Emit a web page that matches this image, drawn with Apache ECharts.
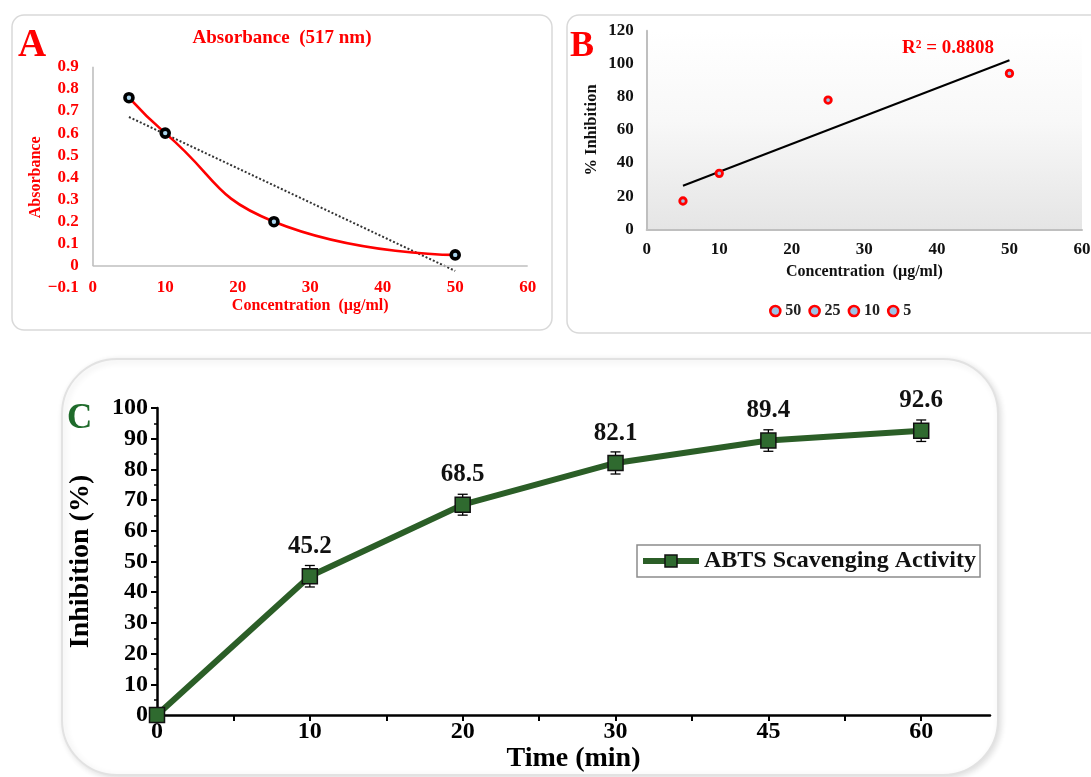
<!DOCTYPE html>
<html>
<head>
<meta charset="utf-8">
<script src="https://cdn.jsdelivr.net/npm/echarts@6/dist/echarts.min.js"></script>
<style>
  html, body { margin: 0; padding: 0; background: #ffffff; }
  #chart { width: 1091px; height: 777px; }
</style>
</head>
<body>
<div id="chart"></div>
<script>
// ---------- Panel A: Absorbance (517 nm) ----------
const concA = [5, 10, 25, 50];
const absorbanceA = [0.76, 0.60, 0.20, 0.05];
const yTicksA = { min: -0.1, max: 0.9, step: 0.1 };
const xTicksA = { min: 0, max: 60, step: 10 };

// ---------- Panel B: % Inhibition ----------
const concB = [50, 25, 10, 5];            // legend order
const inhibitionB = [94.2, 78.1, 33.8, 17.1];
const r2LabelB = 'R² = 0.8808';
const yTicksB = { min: 0, max: 120, step: 20 };
const xTicksB = { min: 0, max: 60, step: 10 };

// ---------- Panel C: ABTS Scavenging Activity ----------
const timeLabels = ['0', '10', '20', '30', '45', '60'];
const abtsValues = [0, 45.2, 68.5, 82.1, 89.4, 92.6];
const abtsErrors = [0, 3.5, 3.4, 3.6, 3.5, 3.5];
const yTicksC = { min: 0, max: 100, step: 10 };

const SERIF = "'Liberation Serif', 'Times New Roman', serif";
const RED = '#ff0000';
const GREEN_LINE = '#2b5e27';

function linFit(xs, ys) {
  const n = xs.length;
  const mx = xs.reduce((a, b) => a + b, 0) / n;
  const my = ys.reduce((a, b) => a + b, 0) / n;
  let sxy = 0, sxx = 0;
  for (let i = 0; i < n; i++) { sxy += (xs[i] - mx) * (ys[i] - my); sxx += (xs[i] - mx) ** 2; }
  const slope = sxy / sxx;
  return { slope, intercept: my - slope * mx };
}
function trendPoints(xs, ys) {
  const f = linFit(xs, ys);
  const lo = Math.min(...xs), hi = Math.max(...xs);
  return [[lo, f.intercept + f.slope * lo], [hi, f.intercept + f.slope * hi]];
}

const chart = echarts.init(document.getElementById('chart'), null, { renderer: 'canvas' });

const boldFont = (size, color) => ({ fontFamily: SERIF, fontWeight: 'bold', fontSize: size, color: color });

const option = {
  animation: false,
  backgroundColor: '#ffffff',
  graphic: [
    // panel frames
    { type: 'rect', z: -10, shape: { x: 12, y: 15, width: 540, height: 315, r: 12 },
      style: { fill: '#ffffff', stroke: '#d9d9d9', lineWidth: 1.5 } },
    { type: 'rect', z: -10, shape: { x: 567, y: 15, width: 560, height: 318, r: 12 },
      style: { fill: '#ffffff', stroke: '#d9d9d9', lineWidth: 1.5 } },
    { type: 'rect', z: -10, shape: { x: 62, y: 359, width: 936, height: 416, r: 55 },
      style: { fill: '#ffffff', stroke: '#e2e2e2', lineWidth: 2,
               shadowBlur: 6, shadowColor: 'rgba(0,0,0,0.12)', shadowOffsetX: 2, shadowOffsetY: 2 } },
    // panel letters
    { type: 'text', x: 18, y: 46, style: { text: 'A', fill: RED, font: 'bold 39px ' + SERIF, verticalAlign: 'middle' } },
    { type: 'text', x: 570, y: 47, style: { text: 'B', fill: RED, font: 'bold 36px ' + SERIF, verticalAlign: 'middle' } },
    { type: 'text', x: 67, y: 419, style: { text: 'C', fill: '#1f6b2b', font: 'bold 35px ' + SERIF, verticalAlign: 'middle' } },
    // panel A title
    { type: 'text', x: 282, y: 38, style: { text: 'Absorbance  (517 nm)', fill: RED, font: 'bold 19px ' + SERIF, align: 'center', verticalAlign: 'middle' } },
    // panel B R²
    { type: 'text', x: 948, y: 48, style: { text: r2LabelB, fill: RED, font: 'bold 19px ' + SERIF, align: 'center', verticalAlign: 'middle' } }
  ],
  legend: [
    {
      data: concB.map(String),
      left: 769, top: 303,
      itemWidth: 10, itemHeight: 10, itemGap: 7,
      icon: 'circle',
      itemStyle: { borderWidth: 2.6, borderColor: RED, color: '#9dc3e6' },
      textStyle: boldFont(16, '#222'),
      padding: 0
    },
    {
      data: ['ABTS Scavenging Activity'],
      left: 637, top: 545,
      itemWidth: 56, itemHeight: 15, itemGap: 4,
      borderColor: '#8c8c8c', borderWidth: 1.5,
      padding: [4, 4, 4, 3],
      lineStyle: { width: 6, color: GREEN_LINE },
      itemStyle: { borderWidth: 1.5, borderColor: '#111', color: '#2f6a2f' },
      textStyle: boldFont(24, '#111')
    }
  ],
  grid: [
    { left: 92.7, top: 66.7, width: 435, height: 221.4, outerBoundsMode: 'none' },
    { left: 646.7, top: 30.7, width: 435.3, height: 198.6, outerBoundsMode: 'none',
      show: true, borderWidth: 0,
      backgroundColor: new echarts.graphic.LinearGradient(0, 0, 0, 1, [
        { offset: 0, color: '#ffffff' }, { offset: 0.45, color: '#f8f8f8' }, { offset: 1, color: '#e5e5e5' }]) },
    { left: 157, top: 408, width: 833, height: 307, outerBoundsMode: 'none' }
  ],
  xAxis: [
    {
      gridIndex: 0, type: 'value', min: xTicksA.min, max: xTicksA.max, interval: xTicksA.step,
      axisLine: { show: false, onZero: false }, axisTick: { show: false }, splitLine: { show: false },
      axisLabel: Object.assign(boldFont(17, RED), { margin: -9 }),
      name: 'Concentration  (µg/ml)', nameLocation: 'middle', nameGap: 10,
      nameTextStyle: boldFont(16, RED)
    },
    {
      gridIndex: 1, type: 'value', min: xTicksB.min, max: xTicksB.max, interval: xTicksB.step,
      axisLine: { show: true, lineStyle: { color: '#bfbfbf', width: 2 } },
      axisTick: { show: false }, splitLine: { show: false },
      axisLabel: Object.assign(boldFont(17, '#111'), { margin: 12 }),
      name: 'Concentration  (µg/ml)', nameLocation: 'middle', nameGap: 35,
      nameTextStyle: boldFont(16, '#111')
    },
    {
      gridIndex: 2, type: 'value', min: 0, max: 5.45, interval: 0.5,
      axisLine: { show: true, onZero: false, lineStyle: { color: '#000', width: 2.5 } },
      axisTick: { show: true, length: 6, lineStyle: { color: '#000', width: 2 } },
      splitLine: { show: false },
      axisLabel: Object.assign(boldFont(24, '#000'), {
        margin: 5, showMaxLabel: false,
        formatter: function (v) { return Number.isInteger(v) && timeLabels[v] !== undefined ? timeLabels[v] : ''; }
      }),
      name: 'Time (min)', nameLocation: 'middle', nameGap: 29,
      nameTextStyle: boldFont(28, '#000')
    }
  ],
  yAxis: [
    {
      gridIndex: 0, type: 'value', min: yTicksA.min, max: yTicksA.max, interval: yTicksA.step,
      axisLine: { show: false }, axisTick: { show: false }, splitLine: { show: false },
      axisLabel: Object.assign(boldFont(17, RED), {
        margin: 14,
        formatter: function (v) { if (Math.abs(v) < 1e-9) return '0'; return v < 0 ? '−' + Math.abs(v).toFixed(1) : v.toFixed(1); }
      }),
      name: 'Absorbance', nameLocation: 'middle', nameGap: 46,
      nameTextStyle: boldFont(16, RED)
    },
    {
      gridIndex: 1, type: 'value', min: yTicksB.min, max: yTicksB.max, interval: yTicksB.step,
      axisLine: { show: true, lineStyle: { color: '#bfbfbf', width: 2 } },
      axisTick: { show: false }, splitLine: { show: false },
      axisLabel: Object.assign(boldFont(17, '#111'), { margin: 13 }),
      name: '% Inhibition', nameLocation: 'middle', nameGap: 46,
      nameTextStyle: boldFont(16.5, '#111')
    },
    {
      gridIndex: 2, type: 'value', min: yTicksC.min, max: yTicksC.max, interval: yTicksC.step,
      axisLine: { show: true, lineStyle: { color: '#000', width: 2.5 } },
      axisTick: { show: true, length: 6, lineStyle: { color: '#000', width: 2 } },
      minorTick: { show: true, splitNumber: 2, length: 3, lineStyle: { color: '#000', width: 1.5 } },
      splitLine: { show: false },
      axisLabel: Object.assign(boldFont(24, '#000'), { margin: 9 }),
      name: 'Inhibition (%)', nameLocation: 'middle', nameGap: 62,
      nameTextStyle: boldFont(28, '#000')
    }
  ],
  series: [
    // ---- A ----
    {
      name: 'Absorbance', type: 'line', xAxisIndex: 0, yAxisIndex: 0,
      data: concA.map((x, i) => [x, absorbanceA[i]]),
      smooth: 0.5, z: 5,
      lineStyle: { color: RED, width: 2.6 },
      symbol: 'circle', symbolSize: 8,
      itemStyle: { color: '#a9d5ee', borderColor: '#000', borderWidth: 3.6 },
      markLine: {
        silent: true, symbol: ['none', 'none'], label: { show: false }, animation: false,
        lineStyle: { color: '#bfbfbf', width: 1.6, type: 'solid' },
        data: [
          [{ coord: [xTicksA.min, 0] }, { coord: [xTicksA.max, 0] }],
          [{ coord: [0, 0] }, { coord: [0, yTicksA.max] }]
        ]
      }
    },
    {
      name: 'Trend A', type: 'line', xAxisIndex: 0, yAxisIndex: 0,
      data: trendPoints(concA, absorbanceA), symbol: 'none', z: 4,
      lineStyle: { color: '#333', width: 2, type: [2, 2] }
    },
    // ---- B ----
    {
      name: 'Trend B', type: 'line', xAxisIndex: 1, yAxisIndex: 1,
      data: trendPoints(concB, inhibitionB), symbol: 'none', z: 3,
      lineStyle: { color: '#000', width: 2 }
    }
  ].concat(concB.map((c, i) => ({
      name: String(c), type: 'scatter', xAxisIndex: 1, yAxisIndex: 1,
      data: [[c, inhibitionB[i]]], z: 5,
      symbol: 'circle', symbolSize: 6.5,
      itemStyle: { color: '#9dc3e6', borderColor: RED, borderWidth: 2.8, opacity: 1 }
  }))).concat([
    // ---- C ----
    {
      name: 'ABTS error', type: 'custom', xAxisIndex: 2, yAxisIndex: 2, z: 3,
      data: abtsValues.map((v, i) => [i, v, abtsErrors[i]]),
      renderItem: function (params, api) {
        const x = api.value(0), y = api.value(1), e = api.value(2);
        if (!e) return null;
        const hi = api.coord([x, y + e]), lo = api.coord([x, y - e]);
        const w = 5;
        const st = { stroke: '#000', lineWidth: 1.3 };
        return { type: 'group', children: [
          { type: 'line', shape: { x1: hi[0], y1: hi[1], x2: lo[0], y2: lo[1] }, style: st },
          { type: 'line', shape: { x1: hi[0] - w, y1: hi[1], x2: hi[0] + w, y2: hi[1] }, style: st },
          { type: 'line', shape: { x1: lo[0] - w, y1: lo[1], x2: lo[0] + w, y2: lo[1] }, style: st }
        ] };
      }
    },
    {
      name: 'ABTS Scavenging Activity', type: 'line', xAxisIndex: 2, yAxisIndex: 2, z: 4,
      data: abtsValues.map((v, i) => [i, v]),
      lineStyle: { color: GREEN_LINE, width: 6 },
      symbol: 'rect', symbolSize: 15,
      itemStyle: { color: '#2f6a2f', borderColor: '#111', borderWidth: 1.5 },
      label: {
        show: true, position: 'top', distance: 9,
        fontFamily: SERIF, fontWeight: 'bold', fontSize: 25, color: '#111',
        formatter: function (p) { return p.value[1] === 0 ? '' : p.value[1].toFixed(1); }
      }
    }
  ])
};

chart.setOption(option);
</script>
</body>
</html>
